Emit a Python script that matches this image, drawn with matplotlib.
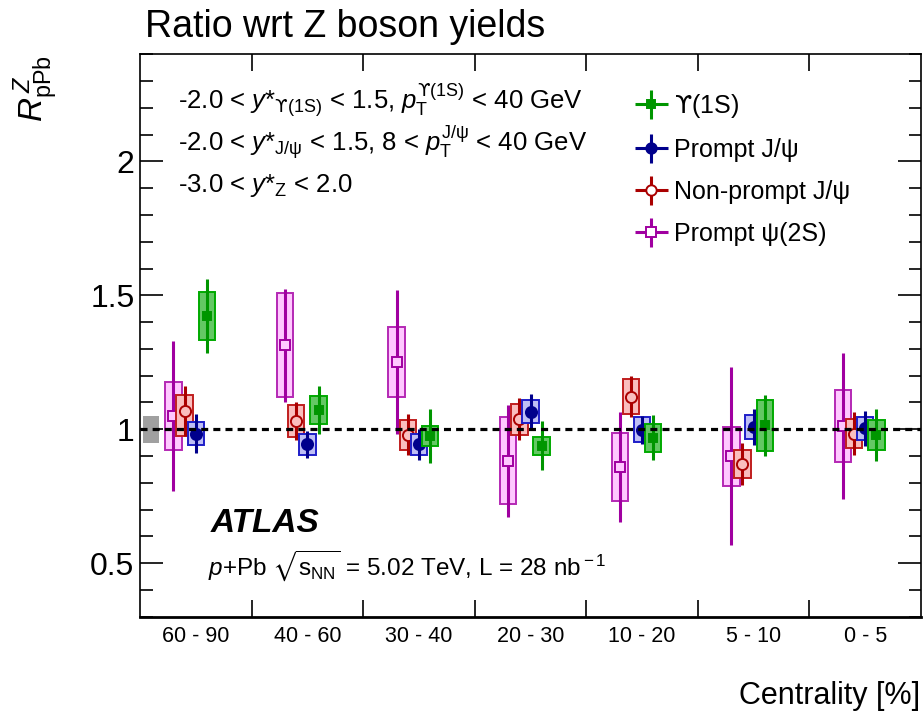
import numpy as np
import matplotlib
matplotlib.use('Agg')
import matplotlib.pyplot as plt
from matplotlib.ticker import MultipleLocator
from matplotlib.container import ErrorbarContainer
from matplotlib.legend_handler import HandlerErrorbar

plt.rcParams['font.family'] = ['Liberation Sans', 'DejaVu Sans']
plt.rcParams['mathtext.fontset'] = 'custom'
plt.rcParams['mathtext.rm'] = 'Liberation Sans'
plt.rcParams['mathtext.it'] = 'Liberation Sans:italic'
plt.rcParams['mathtext.bf'] = 'Liberation Sans:bold'
plt.rcParams['mathtext.sf'] = 'DejaVu Sans'
plt.rcParams['mathtext.fallback'] = 'stixsans'

# centrality bins, most peripheral first
centrality = ['60 - 90', '40 - 60', '30 - 40', '20 - 30', '10 - 20', '5 - 10', '0 - 5']

# Upsilon(1S)
ups_val = np.array([1.423, 1.071, 0.975, 0.938, 0.968, 1.015, 0.979])
ups_stat = np.array([0.137, 0.089, 0.100, 0.092, 0.084, 0.114, 0.097])
ups_sys = np.array([0.088, 0.052, 0.037, 0.034, 0.052, 0.096, 0.056])

# prompt J/psi
pj_val = np.array([0.984, 0.943, 0.943, 1.066, 0.998, 1.009, 1.003])
pj_stat = np.array([0.074, 0.050, 0.059, 0.065, 0.053, 0.068, 0.066])
pj_sys = np.array([0.042, 0.041, 0.041, 0.043, 0.046, 0.046, 0.043])

# non-prompt J/psi
np_val = np.array([1.068, 1.031, 0.980, 1.037, 1.121, 0.871, 0.984])
np_stat = np.array([0.092, 0.071, 0.078, 0.078, 0.076, 0.078, 0.079])
np_sys_lo = np.array([0.092, 0.059, 0.058, 0.057, 0.064, 0.053, 0.053])
np_sys_hi = np.array([0.060, 0.059, 0.055, 0.057, 0.066, 0.050, 0.053])

# prompt psi(2S)
psi_val = np.array([1.049, 1.314, 1.251, 0.883, 0.859, 0.899, 1.012])
psi_stat = np.array([0.279, 0.211, 0.270, 0.209, 0.205, 0.333, 0.274])
psi_sys = np.array([0.126, 0.195, 0.130, 0.163, 0.127, 0.110, 0.136])

# Z normalisation uncertainty
z_unc = 0.05

UPS = '\\mathsf{\u03d2}'

W, H = 923, 715
fig = plt.figure(figsize=(W / 100, H / 100), dpi=100)
ax = fig.add_axes([140 / W, (H - 616.7) / H, 781 / W, 562.4 / H])

centers = np.arange(len(centrality)) + 0.5
box_w = 0.148


def draw_series(x, val, stat, sys_lo, sys_hi, marker, ms, col, box_fc, box_ec, mfc, z):
    ax.bar(x, sys_lo + sys_hi, bottom=val - sys_lo, width=box_w, color=box_fc,
           edgecolor=box_ec, linewidth=1.4, zorder=z)
    ax.errorbar(x, val, yerr=stat, fmt=marker, ms=ms, color=col, mfc=mfc, mec=col,
                mew=1.4, elinewidth=2.2, capsize=0, zorder=z + 1)


# global Z uncertainty box
ax.bar(0.1, 2 * z_unc, bottom=1 - z_unc, width=0.145, color='#a0a0a0', linewidth=0, zorder=2)
ax.axhline(1, color='k', lw=2.3, ls=(0, (2.2, 1.6)), zorder=12)

draw_series(centers - 0.2, psi_val, psi_stat, psi_sys, psi_sys, 's', 7.5,
            '#a000a0', '#ffc8ff', '#b428b4', '#ffc8ff', 3)
draw_series(centers - 0.1, np_val, np_stat, np_sys_lo, np_sys_hi, 'o', 8,
            '#aa0000', '#fabebe', '#c01e1e', '#fabebe', 5)
draw_series(centers, pj_val, pj_stat, pj_sys, pj_sys, 'o', 8,
            '#00008c', '#bebef5', '#1e1ec8', '#00008c', 7)
draw_series(centers + 0.1, ups_val, ups_stat, ups_sys, ups_sys, 's', 6,
            '#009600', '#64c864', '#00aa00', '#009600', 9)

# legend handles
leg_style = [
    ('s', 6, '#009600', '#009600', '$' + UPS + '$(1S)'),
    ('o', 7.5, '#00008c', '#00008c', 'Prompt J/\u03c8'),
    ('o', 7.5, '#aa0000', 'white', 'Non-prompt J/\u03c8'),
    ('s', 7.5, '#a000a0', 'white', 'Prompt \u03c8(2S)'),
]
handles, labels = [], []
for m, ms, c, fc, lab in leg_style:
    h = ax.errorbar([np.nan], [np.nan], xerr=[1], yerr=[1], fmt=m, ms=ms, color=c,
                    mfc=fc, mec=c, mew=1.4, elinewidth=2.2, capsize=0)
    handles.append(h)
    labels.append(lab)
ax.legend(handles, labels, loc='upper left', bbox_to_anchor=(0.634, 0.933),
          frameon=False, fontsize=18, handlelength=1.3, handletextpad=0.25,
          labelspacing=0.72, borderaxespad=0, borderpad=0,
          handler_map={ErrorbarContainer: HandlerErrorbar(xerr_size=0.66, yerr_size=0.58)})

ax.set_xlim(0, len(centrality))
ax.set_ylim(0.3, 2.4)

ax.set_xticks(centers)
ax.set_xticklabels(centrality)
ax.set_xticks(np.arange(1, len(centrality)), minor=True)
ax.tick_params(axis='x', which='major', length=0, pad=7, labelsize=15.5)
ax.tick_params(axis='x', which='minor', direction='in', length=12, width=1.2,
               top=True, bottom=True)
ax.set_yticks([0.5, 1.0, 1.5, 2.0])
ax.set_yticklabels(['0.5', '1', '1.5', '2'])
ax.yaxis.set_minor_locator(MultipleLocator(0.1))
ax.tick_params(axis='y', which='major', direction='in', length=16.5, width=1.2,
               left=True, right=True, labelsize=23, pad=4)
ax.tick_params(axis='y', which='minor', direction='in', length=9, width=1.2,
               left=True, right=True)
for s in ['left', 'top', 'right']:
    ax.spines[s].set_linewidth(1.2)
ax.spines['bottom'].set_linewidth(2.0)

# kinematic selections
fs_txt = 18.5
ax.text(0.0487, 0.901,
        '-2.0 < $y$*$_{' + UPS + '\\rm (1S)}$ < 1.5, $p_{\\rm T}^{' + UPS + '\\rm (1S)}$ < 40 GeV',
        transform=ax.transAxes, fontsize=fs_txt, va='baseline')
ax.text(0.0487, 0.826, r'-2.0 < $y$*$_{\rm J/\psi}$ < 1.5, 8 < $p_{\rm T}^{\rm J/\psi}$ < 40 GeV',
        transform=ax.transAxes, fontsize=fs_txt, va='baseline')
ax.text(0.0487, 0.755, r'-3.0 < $y$*$_{\rm Z}$ < 2.0',
        transform=ax.transAxes, fontsize=fs_txt, va='baseline')

ax.text(0.09, 0.151, 'ATLAS', transform=ax.transAxes, fontsize=24,
        fontweight='bold', fontstyle='italic', va='baseline')
ax.text(0.087, 0.074, r'$p$+Pb $\sqrt{\rm s_{NN}}$ = 5.02 TeV, L = 28 nb$^{\rm -1}$',
        transform=ax.transAxes, fontsize=17.5, va='baseline')

fig.text(145 / W, 1 - 37 / H, 'Ratio wrt Z boson yields', fontsize=27, va='baseline')
fig.text(0.997, 1 - 704 / H, 'Centrality [%]', fontsize=22, ha='right', va='baseline')
fig.text(36 / W, 1 - 55 / H, r'$R^{\,Z}_{\rm pPb}$', fontsize=24, rotation=90,
         ha='center', va='top')

fig.savefig('out.png', dpi=100)
